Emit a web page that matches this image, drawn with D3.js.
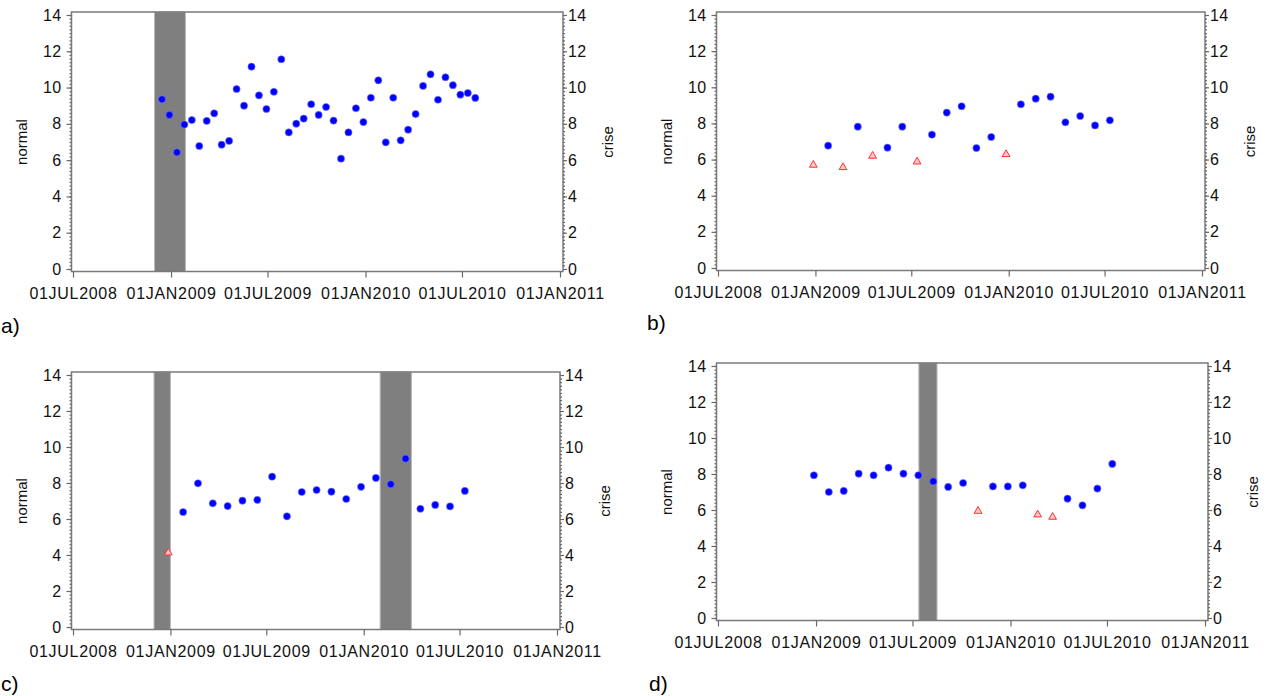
<!DOCTYPE html>
<html>
<head>
<meta charset="utf-8">
<script src="https://cdn.jsdelivr.net/npm/d3@7"></script>
<style>
  body { margin: 0; background: #fff; }
  text { font-family: "Liberation Sans", Arial, sans-serif; }
</style>
</head>
<body>
<script>
// biweekly dates (panel a) and 4-weekly dates (panels b, c, d)
var datesA = ["2008-12-15","2008-12-29","2009-01-12","2009-01-26","2009-02-09","2009-02-23",
  "2009-03-09","2009-03-23","2009-04-06","2009-04-20","2009-05-04","2009-05-18","2009-06-01",
  "2009-06-15","2009-06-29","2009-07-13","2009-07-27","2009-08-10","2009-08-24","2009-09-07",
  "2009-09-21","2009-10-05","2009-10-19","2009-11-02","2009-11-16","2009-11-30","2009-12-14",
  "2009-12-28","2010-01-11","2010-01-25","2010-02-08","2010-02-22","2010-03-08","2010-03-22",
  "2010-04-05","2010-04-19","2010-05-03","2010-05-17","2010-05-31","2010-06-14","2010-06-28",
  "2010-07-12","2010-07-26"]
var datesM = ["2008-12-28","2009-01-25","2009-02-22","2009-03-22","2009-04-19","2009-05-17",
  "2009-06-14","2009-07-12","2009-08-09","2009-09-06","2009-10-04","2009-11-01","2009-11-29",
  "2009-12-27","2010-01-24","2010-02-21","2010-03-21","2010-04-18","2010-05-16","2010-06-13",
  "2010-07-11"]

var normalA = [9.35,8.49,6.43,7.96,8.21,6.78,8.16,8.58,6.85,7.06,9.92,9.0,11.15,9.57,8.82,9.77,
  11.56,7.53,8.01,8.29,9.08,8.49,8.93,8.18,6.08,7.53,8.86,8.10,9.44,10.40,6.98,9.44,7.09,7.68,
  8.54,10.09,10.73,9.33,10.57,10.13,9.61,9.70,9.43]
var criseA = []

var normalB = [null,6.77,null,7.82,null,6.66,7.82,null,7.38,8.60,8.95,6.64,7.25,null,9.06,9.37,
  9.48,8.06,8.41,7.89,8.17]
var criseB = [5.70,null,5.57,null,6.20,null,null,5.88,null,null,null,null,null,6.29,null,null,
  null,null,null,null,null]

var normalC = [null,6.39,7.98,6.87,6.72,7.02,7.06,8.35,6.15,7.50,7.61,7.52,7.11,7.79,8.28,7.93,
  9.35,6.57,6.78,6.70,7.56]
var criseC = [4.13,null,null,null,null,null,null,null,null,null,null,null,null,null,null,null,
  null,null,null,null,null]

var normalD = [7.93,7.0,7.06,8.02,7.93,8.35,8.02,7.93,7.59,7.28,7.5,null,7.31,7.31,7.37,null,null,
  6.63,6.26,7.19,8.56]
var criseD = [null,null,null,null,null,null,null,null,null,null,null,5.94,null,null,null,5.74,5.61,
  null,null,null,null]

// crisis periods (grey bands)
var bandsA = [["2008-12-01","2009-01-28"]]
var bandsB = []
var bandsC = [["2008-12-01","2009-01-01"],["2010-02-01","2010-04-01"]]
var bandsD = [["2009-07-13","2009-08-16"]]

var xTickDates = ["2008-07-01","2009-01-01","2009-07-01","2010-01-01","2010-07-01","2011-01-01"]
var yTicks = [0,2,4,6,8,10,12,14]
var panelLabels = ["a)","b)","c)","d)"]

var parse = d3.utcParse("%Y-%m-%d")
var fmt = d3.utcFormat("%d%b%Y")

var svg = d3.select("body").append("svg")
    .attr("width", 1267)
    .attr("height", 696)

// positions of each panel: x of first/last tick, y of 0 and 14
var panels = [
  {x0: 73,  x1: 560,  y0: 269, y14: 15,  dates: datesA, normal: normalA, crise: criseA, bands: bandsA, lx: 1,   ly: 333},
  {x0: 718, x1: 1202, y0: 268, y14: 15,  dates: datesM, normal: normalB, crise: criseB, bands: bandsB, lx: 647, ly: 330},
  {x0: 73,  x1: 557,  y0: 627, y14: 375, dates: datesM, normal: normalC, crise: criseC, bands: bandsC, lx: 1,   ly: 691},
  {x0: 718, x1: 1205, y0: 618, y14: 366, dates: datesM, normal: normalD, crise: criseD, bands: bandsD, lx: 649, ly: 691}
]

panels.forEach(function(p, i) {

  var x = d3.scaleUtc()
    .domain([parse("2008-07-01"), parse("2011-01-01")])
    .range([p.x0, p.x1])

  var y = d3.scaleLinear()
    .domain([0, 14])
    .range([p.y0, p.y14])

  var left = p.x0 - 1.5, right = p.x1 + 3, top = p.y14 - 3, bottom = p.y0 + 2.5

  var g = svg.append("g")

  // grey crisis bands
  g.selectAll(".band")
    .data(p.bands)
    .enter()
    .append("rect")
      .attr("x", function(d) { return x(parse(d[0])) })
      .attr("width", function(d) { return x(parse(d[1])) - x(parse(d[0])) })
      .attr("y", top)
      .attr("height", bottom - top)
      .style("fill", "#7f7f7f")
      .style("stroke", "#b8b8b8")
      .style("stroke-width", 1)

  // frame
  g.append("rect")
    .attr("x", left).attr("y", top)
    .attr("width", right - left).attr("height", bottom - top)
    .style("fill", "none")
    .style("stroke", "#7a7a7a")
    .style("stroke-width", 1.5)

  // minor ticks, both sides
  var minor = d3.range(0, 141, 2).map(function(v) { return v / 10 })
  g.append("g")
    .attr("transform", "translate(" + left + ",0)")
    .call(d3.axisLeft(y).tickValues(minor).tickSize(2).tickFormat(""))
  g.append("g")
    .attr("transform", "translate(" + right + ",0)")
    .call(d3.axisRight(y).tickValues(minor).tickSize(2).tickFormat(""))

  // major y ticks
  g.append("g")
    .attr("class", "axis")
    .attr("transform", "translate(" + left + ",0)")
    .call(d3.axisLeft(y).tickValues(yTicks).tickSize(5).tickPadding(5))
  g.append("g")
    .attr("class", "axis")
    .attr("transform", "translate(" + right + ",0)")
    .call(d3.axisRight(y).tickValues(yTicks).tickSize(4).tickPadding(1))

  // x axis
  g.append("g")
    .attr("class", "axis xaxis")
    .attr("transform", "translate(0," + bottom + ")")
    .call(d3.axisBottom(x)
      .tickValues(xTickDates.map(parse))
      .tickSize(6)
      .tickPadding(10)
      .tickFormat(function(d) { return fmt(d).toUpperCase() }))

  g.selectAll(".domain").remove()
  g.selectAll(".tick line").style("stroke", "#6a6a6a").style("stroke-width", 1.2)
  g.selectAll(".axis text")
    .style("font-size", "16px")
    .style("letter-spacing", "0.3px")
    .style("fill", "#111")
  g.selectAll(".xaxis text")
    .style("letter-spacing", "0.7px")

  // normal series: blue dots
  var normalPts = p.dates.map(function(d, k) { return {date: parse(d), v: p.normal[k]} })
    .filter(function(d) { return d.v != null })
  g.selectAll(".dot")
    .data(normalPts)
    .enter()
    .append("circle")
      .attr("cx", function(d) { return x(d.date) })
      .attr("cy", function(d) { return y(d.v) })
      .attr("r", 3.6)
      .style("fill", "#0000ff")
      .style("stroke", "#8080ff")
      .style("stroke-width", 0.6)

  // crise series: red open triangles
  var crisePts = p.dates.map(function(d, k) { return {date: parse(d), v: p.crise[k]} })
    .filter(function(d) { return d.v != null })
  g.selectAll(".tri")
    .data(crisePts)
    .enter()
    .append("path")
      .attr("d", d3.symbol().type(d3.symbolTriangle).size(26))
      .attr("transform", function(d) { return "translate(" + x(d.date) + "," + y(d.v) + ")" })
      .style("fill", "#ffc8c8")
      .style("stroke", "#ff3030")
      .style("stroke-width", 1)

  // axis titles
  var midY = (p.y0 + p.y14) / 2
  g.append("text")
    .attr("transform", "translate(" + (left - 50) + "," + midY + ") rotate(-90)")
    .attr("text-anchor", "middle")
    .attr("dy", "0.35em")
    .style("font-size", "15px")
    .style("fill", "#111")
    .text("normal")
  g.append("text")
    .attr("transform", "translate(" + (right + 45) + "," + midY + ") rotate(-90)")
    .attr("text-anchor", "middle")
    .attr("dy", "0.35em")
    .style("font-size", "15px")
    .style("fill", "#111")
    .text("crise")

  // panel label
  svg.append("text")
    .attr("x", p.lx)
    .attr("y", p.ly)
    .style("font-size", "21px")
    .style("fill", "#000")
    .text(panelLabels[i])
})
</script>
</body>
</html>
